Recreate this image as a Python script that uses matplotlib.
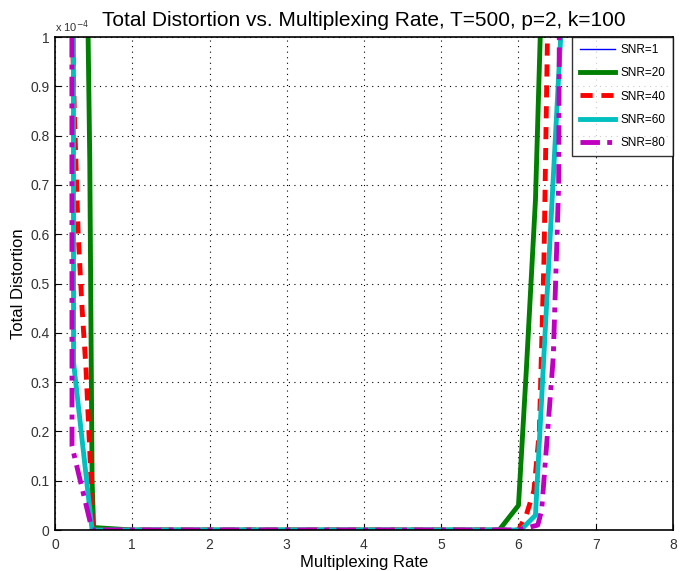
import matplotlib
matplotlib.use('Agg')
import matplotlib.pyplot as plt
import numpy as np
from matplotlib.ticker import FuncFormatter

plt.rcParams['font.family'] = ['Liberation Sans', 'DejaVu Sans']

snr_labels = ['SNR=1', 'SNR=20', 'SNR=40', 'SNR=60', 'SNR=80']

x_snr1 = [0.23, 0.24, 0.48, 1, 2, 3, 4, 5, 6.03, 6.22, 6.56]
d_snr1 = [5.0, 0.34, 0, 0, 0, 0, 0, 0, 0, 0.03, 1.04]

x_snr20 = [0.42, 0.45, 0.48, 0.5, 1, 2, 3, 4, 5, 5.75, 6.0, 6.1, 6.22, 6.3]
d_snr20 = [1.1, 0.75, 0.1, 0.005, 0, 0, 0, 0, 0, 0, 0.05, 0.32, 0.67, 1.1]

x_snr40 = [0.22, 0.25, 0.3, 0.35, 0.4, 0.45, 0.49, 1, 2, 3, 4, 5, 6.0, 6.1, 6.2, 6.27, 6.33, 6.38]
d_snr40 = [1.05, 0.85, 0.6, 0.45, 0.33, 0.16, 0, 0, 0, 0, 0, 0, 0, 0.03, 0.08, 0.2, 0.55, 1.05]

x_snr60 = [0.23, 0.24, 0.48, 1, 2, 3, 4, 5, 6.03, 6.22, 6.56]
d_snr60 = [5.0, 0.34, 0, 0, 0, 0, 0, 0, 0, 0.03, 1.04]

x_snr80 = [0.21, 0.22, 0.48, 1, 2, 3, 4, 5, 6.0, 6.25, 6.3, 6.45, 6.52, 6.53]
d_snr80 = [5.0, 0.17, 0, 0, 0, 0, 0, 0, 0, 0.01, 0.04, 0.35, 0.7, 1.05]

scale = 1e-4

fig = plt.figure(figsize=(6.92, 5.71), dpi=100)
ax = fig.add_axes([0.0795, 0.0718, 0.893, 0.8632])

ax.plot(x_snr1, np.array(d_snr1) * scale, color='blue', lw=1, label=snr_labels[0])
ax.plot(x_snr20, np.array(d_snr20) * scale, color=(0, 0.5, 0), lw=3.5, label=snr_labels[1])
ax.plot(x_snr40, np.array(d_snr40) * scale, color='red', lw=3.5, ls=(0, (2.5, 1.8)), label=snr_labels[2])
ax.plot(x_snr60, np.array(d_snr60) * scale, color=(0, 0.75, 0.75), lw=3.5, label=snr_labels[3])
ax.plot(x_snr80, np.array(d_snr80) * scale, color=(0.75, 0, 0.75), lw=3.5, ls=(0, (4, 1.5, 1, 1.5)), label=snr_labels[4])

ax.set_xlim(0, 8)
ax.set_ylim(0, 1e-4)
ax.set_xticks(range(0, 9))
ax.set_yticks(np.arange(0, 11) * 1e-5)
ax.yaxis.set_major_formatter(FuncFormatter(lambda v, _: f"{v * 1e4:g}"))
ax.tick_params(direction='in', labelsize=10, labelcolor='#333333', length=4)
ax.tick_params(axis='x', pad=6)
ax.tick_params(axis='y', pad=4)
ax.grid(True, color='black', ls=(0, (1, 4)), lw=0.8)
for s in ax.spines.values():
    s.set_linewidth(1.2)

ax.text(0.0, 1.005, 'x 10$^{-4}$', transform=ax.transAxes, fontsize=8, ha='left', va='bottom', color='#333333')

ax.set_title('Total Distortion vs. Multiplexing Rate, T=500, p=2, k=100', fontsize=15, pad=8)
ax.set_xlabel('Multiplexing Rate', fontsize=12, labelpad=2)
ax.set_ylabel('Total Distortion', fontsize=12, labelpad=3)

leg = ax.legend(loc='upper right', fontsize=8.5, frameon=True, fancybox=False,
                edgecolor='black', borderaxespad=0, handlelength=3.0,
                handletextpad=0.5, labelspacing=0.95, borderpad=0.6)
leg.get_frame().set_linewidth(1.0)

fig.savefig('out.png', dpi=100)
